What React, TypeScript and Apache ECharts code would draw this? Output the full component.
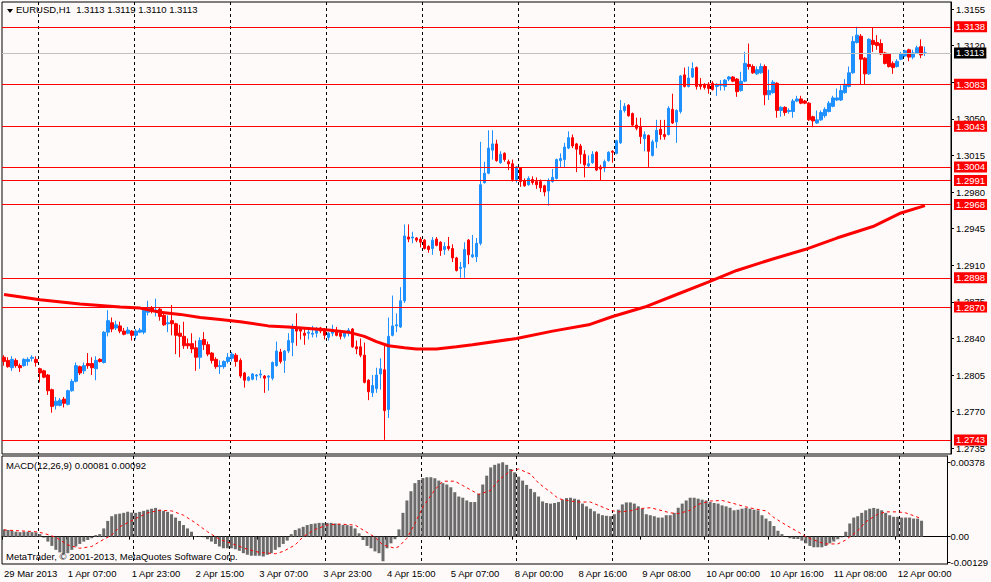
import React, { useEffect, useRef } from "react";
import * as echarts from "echarts";

// ---------- data (EURUSD H1) ----------
const X_LABELS = ["29 Mar 2013","1 Apr 07:00","1 Apr 23:00","2 Apr 15:00","3 Apr 07:00","3 Apr 23:00","4 Apr 15:00","5 Apr 07:00","8 Apr 00:00","8 Apr 16:00","9 Apr 08:00","10 Apr 00:00","10 Apr 16:00","11 Apr 08:00","12 Apr 00:00"];
const LABEL_STEP = 16;
const SLOT_COUNT = 237;

const OPEN = [
1.2822,1.2819,1.2812,1.2819,1.2814,1.2814,1.2818,1.2821,1.2820,1.2811,
1.2809,1.2805,1.2791,1.2776,1.2776,1.2782,1.2777,1.2790,1.2799,1.2813,
1.2809,1.2816,1.2816,1.2811,1.2820,1.2817,1.2846,1.2855,1.2850,1.2852,
1.2847,1.2845,1.2847,1.2843,1.2846,1.2846,1.2865,1.2869,1.2866,1.2868,
1.2862,1.2854,1.2857,1.2854,1.2845,1.2842,1.2835,1.2835,1.2831,1.2822,
1.2839,1.2834,1.2826,1.2820,1.2813,1.2813,1.2818,1.2821,1.2824,1.2819,
1.2807,1.2800,1.2801,1.2804,1.2805,1.2804,1.2803,1.2802,1.2814,1.2827,
1.2819,1.2828,1.2836,1.2850,1.2850,1.2845,1.2845,1.2844,1.2845,1.2850,
1.2848,1.2841,1.2845,1.2846,1.2845,1.2842,1.2845,1.2849,1.2832,1.2832,
1.2824,1.2800,1.2788,1.2792,1.2806,1.2810,1.2772,1.2843,1.2852,1.2851,
1.2876,1.2937,1.2936,1.2936,1.2935,1.2934,1.2928,1.2926,1.2935,1.2932,
1.2925,1.2928,1.2926,1.2917,1.2907,1.2908,1.2934,1.2918,1.2918,1.2931,
1.2989,1.2998,1.3020,1.3026,1.3008,1.3017,1.3009,1.3007,1.2991,1.3003,
1.2991,1.2987,1.2992,1.2990,1.2990,1.2986,1.2981,1.2990,1.2993,1.3010,
1.3011,1.3022,1.3032,1.3026,1.3024,1.3016,1.3005,1.3008,1.3018,1.3004,
1.3003,1.3010,1.3019,1.3017,1.3027,1.3058,1.3063,1.3055,1.3044,1.3042,
1.3031,1.3034,1.3015,1.3028,1.3040,1.3035,1.3035,1.3059,1.3047,1.3057,
1.3092,1.3081,1.3090,1.3099,1.3083,1.3083,1.3083,1.3084,1.3081,1.3082,
1.3081,1.3088,1.3090,1.3088,1.3077,1.3086,1.3102,1.3100,1.3093,1.3094,
1.3100,1.3073,1.3075,1.3084,1.3058,1.3061,1.3057,1.3057,1.3067,1.3069,
1.3067,1.3065,1.3052,1.3046,1.3049,1.3053,1.3057,1.3062,1.3068,1.3068,
1.3075,1.3081,1.3094,1.3123,1.3129,1.3108,1.3093,1.3125,1.3123,1.3122,
1.3113,1.3112,1.3103,1.3100,1.3107,1.3110,1.3116,1.3109,1.3113,1.3119,
1.3113];

const CLOSE = [
1.2818,1.2813,1.2820,1.2814,1.2812,1.2820,1.2820,1.2822,1.2817,1.2807,
1.2803,1.2790,1.2775,1.2780,1.2781,1.2778,1.2790,1.2799,1.2814,1.2807,
1.2814,1.2814,1.2812,1.2819,1.2818,1.2846,1.2857,1.2849,1.2853,1.2847,
1.2844,1.2848,1.2843,1.2847,1.2848,1.2867,1.2869,1.2866,1.2867,1.2861,
1.2853,1.2855,1.2854,1.2843,1.2842,1.2833,1.2833,1.2830,1.2822,1.2838,
1.2834,1.2825,1.2819,1.2813,1.2814,1.2818,1.2822,1.2825,1.2818,1.2804,
1.2800,1.2803,1.2806,1.2805,1.2806,1.2802,1.2804,1.2817,1.2828,1.2818,
1.2828,1.2838,1.2851,1.2847,1.2847,1.2843,1.2846,1.2845,1.2848,1.2847,
1.2843,1.2845,1.2848,1.2843,1.2842,1.2846,1.2848,1.2832,1.2830,1.2824,
1.2798,1.2789,1.2795,1.2805,1.2811,1.2771,1.2842,1.2852,1.2853,1.2876,
1.2938,1.2935,1.2937,1.2934,1.2932,1.2926,1.2925,1.2934,1.2929,1.2924,
1.2928,1.2926,1.2917,1.2905,1.2908,1.2925,1.2920,1.2920,1.2931,1.2987,
1.2998,1.3022,1.3026,1.3010,1.3016,1.3011,1.3007,1.2992,1.3004,1.2990,
1.2986,1.2993,1.2989,1.2987,1.2984,1.2980,1.2991,1.2994,1.3011,1.3012,
1.3023,1.3032,1.3024,1.3021,1.3016,1.3006,1.3007,1.3016,1.3001,1.3002,
1.3009,1.3018,1.3018,1.3029,1.3058,1.3062,1.3053,1.3044,1.3041,1.3033,
1.3035,1.3019,1.3028,1.3039,1.3035,1.3033,1.3060,1.3046,1.3058,1.3091,
1.3081,1.3089,1.3098,1.3081,1.3081,1.3080,1.3079,1.3078,1.3083,1.3083,
1.3087,1.3090,1.3086,1.3076,1.3086,1.3103,1.3100,1.3094,1.3097,1.3100,
1.3073,1.3077,1.3085,1.3058,1.3061,1.3056,1.3058,1.3067,1.3069,1.3065,
1.3065,1.3049,1.3048,1.3049,1.3056,1.3059,1.3065,1.3070,1.3070,1.3077,
1.3083,1.3094,1.3124,1.3130,1.3107,1.3093,1.3126,1.3121,1.3120,1.3112,
1.3103,1.3100,1.3099,1.3105,1.3112,1.3115,1.3109,1.3113,1.3118,1.3111,
1.3113];

const LOW = [
1.2814,1.2812,1.2809,1.2812,1.2808,1.2813,1.2814,1.2818,1.2813,1.2798,
1.2802,1.2786,1.2769,1.2772,1.2775,1.2774,1.2776,1.2789,1.2798,1.2805,
1.2806,1.2811,1.2805,1.2800,1.2817,1.2816,1.2842,1.2846,1.2848,1.2845,
1.2843,1.2844,1.2838,1.2839,1.2845,1.2844,1.2862,1.2864,1.2861,1.2857,
1.2852,1.2846,1.2843,1.2825,1.2822,1.2830,1.2830,1.2826,1.2809,1.2811,
1.2829,1.2823,1.2816,1.2811,1.2806,1.2811,1.2816,1.2818,1.2813,1.2802,
1.2793,1.2799,1.2800,1.2800,1.2802,1.2788,1.2790,1.2800,1.2813,1.2816,
1.2807,1.2826,1.2823,1.2833,1.2839,1.2834,1.2839,1.2841,1.2841,1.2845,
1.2839,1.2838,1.2842,1.2842,1.2839,1.2840,1.2842,1.2831,1.2825,1.2822,
1.2797,1.2781,1.2784,1.2788,1.2791,1.2743,1.2764,1.2842,1.2846,1.2850,
1.2874,1.2932,1.2931,1.2932,1.2927,1.2925,1.2922,1.2920,1.2928,1.2919,
1.2920,1.2924,1.2913,1.2904,1.2898,1.2898,1.2911,1.2917,1.2913,1.2929,
1.2988,1.2997,1.3011,1.3009,1.3007,1.3009,1.3001,1.2990,1.2989,1.2985,
1.2985,1.2986,1.2987,1.2983,1.2980,1.2976,1.2967,1.2989,1.2992,1.3003,
1.3003,1.3021,1.3022,1.2999,1.3007,1.2994,1.3004,1.3007,1.3000,1.2991,
1.2999,1.3009,1.3008,1.3016,1.3026,1.3056,1.3052,1.3043,1.3039,1.3026,
1.3019,1.3004,1.3014,1.3022,1.3030,1.3030,1.3034,1.3045,1.3027,1.3055,
1.3080,1.3080,1.3089,1.3078,1.3078,1.3078,1.3074,1.3077,1.3072,1.3077,
1.3077,1.3086,1.3085,1.3071,1.3076,1.3085,1.3097,1.3093,1.3092,1.3093,
1.3063,1.3068,1.3074,1.3051,1.3052,1.3053,1.3055,1.3051,1.3066,1.3064,
1.3064,1.3048,1.3042,1.3045,1.3048,1.3051,1.3056,1.3061,1.3067,1.3067,
1.3074,1.3080,1.3093,1.3122,1.3083,1.3083,1.3092,1.3114,1.3116,1.3111,
1.3102,1.3099,1.3093,1.3099,1.3106,1.3109,1.3105,1.3107,1.3112,1.3108,
1.3110];

const HIGH = [
1.2824,1.2822,1.2823,1.2821,1.2816,1.2821,1.2822,1.2824,1.2823,1.2812,
1.2810,1.2806,1.2792,1.2784,1.2783,1.2784,1.2791,1.2801,1.2817,1.2814,
1.2817,1.2826,1.2822,1.2823,1.2821,1.2847,1.2867,1.2860,1.2857,1.2856,
1.2850,1.2851,1.2848,1.2849,1.2850,1.2868,1.2876,1.2871,1.2878,1.2870,
1.2864,1.2862,1.2872,1.2855,1.2853,1.2856,1.2840,1.2845,1.2838,1.2841,
1.2846,1.2837,1.2827,1.2822,1.2819,1.2819,1.2826,1.2827,1.2826,1.2821,
1.2808,1.2804,1.2807,1.2806,1.2810,1.2805,1.2805,1.2818,1.2837,1.2830,
1.2829,1.2845,1.2854,1.2864,1.2851,1.2849,1.2851,1.2852,1.2851,1.2851,
1.2850,1.2846,1.2853,1.2851,1.2846,1.2847,1.2850,1.2850,1.2838,1.2840,
1.2836,1.2801,1.2805,1.2812,1.2821,1.2834,1.2860,1.2881,1.2864,1.2889,
1.2949,1.2949,1.2942,1.2937,1.2937,1.2935,1.2929,1.2937,1.2937,1.2933,
1.2932,1.2937,1.2930,1.2918,1.2913,1.2932,1.2935,1.2939,1.2936,1.3028,
1.3009,1.3039,1.3039,1.3030,1.3019,1.3018,1.3011,1.3011,1.3005,1.3004,
1.2993,1.2995,1.2995,1.2994,1.2992,1.2987,1.2993,1.3002,1.3012,1.3017,
1.3027,1.3038,1.3035,1.3027,1.3026,1.3020,1.3015,1.3019,1.3019,1.3006,
1.3011,1.3019,1.3020,1.3030,1.3068,1.3065,1.3064,1.3056,1.3051,1.3051,
1.3038,1.3035,1.3030,1.3049,1.3049,1.3049,1.3062,1.3074,1.3059,1.3092,
1.3099,1.3100,1.3104,1.3100,1.3089,1.3084,1.3085,1.3086,1.3084,1.3087,
1.3088,1.3091,1.3091,1.3089,1.3095,1.3114,1.3122,1.3102,1.3100,1.3103,
1.3102,1.3097,1.3087,1.3085,1.3062,1.3062,1.3060,1.3069,1.3072,1.3072,
1.3068,1.3066,1.3053,1.3058,1.3058,1.3061,1.3067,1.3072,1.3079,1.3082,
1.3088,1.3100,1.3129,1.3138,1.3131,1.3109,1.3127,1.3137,1.3130,1.3126,
1.3114,1.3113,1.3105,1.3107,1.3114,1.3116,1.3117,1.3116,1.3120,1.3126,
1.3119];

// moving average read at sample bars
const MA_BARS = [0,9,19,29,34,39,44,49,54,59,66,71,81,86,90,93,96,100,103,108,113,117,128,137,146,152,160,168,176,183,192,200,208,217,224,230];
const MA_VALUES = [1.2882,1.2877,1.2873,1.2870,1.2869,1.2865,1.2863,1.2860,1.2858,1.2856,1.2852,1.2851,1.2848,1.2846,1.2842,1.2837,1.2833,1.2831,1.2830,1.2830,1.2832,1.2834,1.2840,1.2847,1.2853,1.2861,1.2870,1.2882,1.2894,1.2905,1.2916,1.2925,1.2936,1.2947,1.2960,1.2967];

// horizontal levels
const LEVELS = [1.3138, 1.3083, 1.3043, 1.3004, 1.2991, 1.2968, 1.2898, 1.2870, 1.2743];
const BID = 1.3113;

// price scale ticks; 1.3085 carries a tick but its label is fully hidden in the reference
const PRICE_TICKS = [1.2735,1.2770,1.2805,1.2840,1.2875,1.2910,1.2945,1.2980,1.3015,1.3050,1.3085,1.3120,1.3155];
const PRICE_TICK_LABELS = [1.2735,1.2770,1.2805,1.2840,1.2875,1.2910,1.2945,1.2980,1.3015,1.3050,1.3120,1.3155];
const PRICE_MIN = 1.27295;
const PRICE_MAX = 1.31617;

const MACD_HIST = [
0.00037,0.00034,0.00030,0.00025,0.00023,0.00025,0.00025,0.00023,0.00022,0.00013,
-0.00005,-0.00025,-0.00047,-0.00067,-0.00080,-0.00087,-0.00084,-0.00067,-0.00050,-0.00037,
-0.00025,-0.00017,-0.00008,0.00008,0.00013,0.00042,0.00080,0.00104,0.00114,0.00117,
0.00121,0.00126,0.00122,0.00121,0.00126,0.00131,0.00137,0.00142,0.00146,0.00137,
0.00131,0.00126,0.00114,0.00097,0.00080,0.00059,0.00042,0.00025,0.00003,0.00002,
-0.00003,-0.00013,-0.00025,-0.00037,-0.00050,-0.00059,-0.00059,-0.00059,-0.00064,-0.00072,
-0.00084,-0.00092,-0.00097,-0.00097,-0.00097,-0.00101,-0.00092,-0.00084,-0.00067,-0.00054,
-0.00037,-0.00020,0.00013,0.00034,0.00042,0.00050,0.00059,0.00064,0.00067,0.00070,
0.00070,0.00070,0.00070,0.00067,0.00064,0.00059,0.00059,0.00054,0.00042,0.00017,
-0.00017,-0.00047,-0.00059,-0.00075,-0.00084,-0.00125,-0.00059,-0.00034,-0.00013,0.00037,
0.00121,0.00184,0.00231,0.00272,0.00288,0.00298,0.00302,0.00302,0.00297,0.00285,
0.00272,0.00265,0.00251,0.00226,0.00204,0.00198,0.00184,0.00176,0.00176,0.00218,
0.00265,0.00310,0.00352,0.00365,0.00372,0.00378,0.00365,0.00344,0.00327,0.00305,
0.00285,0.00263,0.00243,0.00226,0.00204,0.00179,0.00171,0.00168,0.00171,0.00176,
0.00188,0.00196,0.00198,0.00193,0.00188,0.00168,0.00154,0.00142,0.00129,0.00117,
0.00109,0.00106,0.00104,0.00114,0.00137,0.00164,0.00174,0.00174,0.00168,0.00154,
0.00142,0.00114,0.00109,0.00104,0.00097,0.00097,0.00109,0.00109,0.00121,0.00147,
0.00168,0.00184,0.00198,0.00198,0.00193,0.00188,0.00184,0.00176,0.00171,0.00168,
0.00159,0.00154,0.00147,0.00134,0.00137,0.00142,0.00146,0.00142,0.00137,0.00134,
0.00109,0.00092,0.00079,0.00054,0.00030,0.00013,0.00001,-0.00008,-0.00012,-0.00012,
-0.00020,-0.00034,-0.00047,-0.00054,-0.00054,-0.00054,-0.00047,-0.00034,-0.00025,-0.00013,
-0.00003,0.00025,0.00067,0.00097,0.00104,0.00121,0.00134,0.00142,0.00146,0.00142,
0.00134,0.00121,0.00109,0.00101,0.00101,0.00097,0.00097,0.00097,0.00092,0.00092,
0.00081];

const SIGNAL_BARS = [0,8,10,13,16,19,22,24,27,29,33,36,39,42,45,48,51,54,58,61,64,68,70,73,75,78,81,84,88,90,93,95,98,99,101,103,105,108,110,113,115,118,119,122,124,127,129,132,134,137,139,142,144,147,149,152,154,157,159,162,164,167,169,172,174,177,180,183,186,188,191,193,196,199,201,204,206,209,211,214,216,219,221,224,226,230];
const SIGNAL_VALUES = [0.00034,0.00025,0.00017,-0.00003,-0.00042,-0.00059,-0.00050,-0.00025,0.00008,0.00050,0.00092,0.00121,0.00134,0.00131,0.00109,0.00070,0.00025,-0.00013,-0.00042,-0.00064,-0.00080,-0.00087,-0.00075,-0.00042,0.00000,0.00037,0.00059,0.00064,0.00059,0.00034,-0.00003,-0.00042,-0.00059,-0.00050,-0.00008,0.00067,0.00151,0.00238,0.00282,0.00282,0.00260,0.00226,0.00215,0.00235,0.00288,0.00335,0.00344,0.00318,0.00272,0.00226,0.00193,0.00181,0.00176,0.00176,0.00159,0.00134,0.00126,0.00131,0.00142,0.00147,0.00137,0.00121,0.00117,0.00134,0.00164,0.00181,0.00184,0.00168,0.00151,0.00142,0.00131,0.00097,0.00059,0.00025,0.00000,-0.00025,-0.00037,-0.00037,-0.00017,0.00030,0.00075,0.00114,0.00126,0.00126,0.00121,0.00092];

const MACD_TICKS = [-0.00129, 0, 0.00378];
const MACD_MIN = -0.00139;
const MACD_MAX = 0.0041;

// ---------- styles ----------
const BG = "#fffafa";
const BULL = "#1e90ff";
const BEAR = "#ff0000";
const FONT = "'Liberation Sans', Arial, sans-serif";
const FS = 9.5;

export default function App() {
  const ref = useRef<HTMLDivElement>(null);

  useEffect(() => {
    if (!ref.current) return;
    const chart = echarts.init(ref.current, undefined, { renderer: "svg" });

    const categories = Array.from({ length: SLOT_COUNT }, (_, i) =>
      i % LABEL_STEP === 0 && X_LABELS[i / LABEL_STEP] ? X_LABELS[i / LABEL_STEP] : `#${i}`
    );
    const candles = OPEN.map((o, i) => [o, CLOSE[i], LOW[i], HIGH[i]]);
    const maData = MA_BARS.map((b, i) => [b, MA_VALUES[i]]);
    const sigData = SIGNAL_BARS.map((b, i) => [b, SIGNAL_VALUES[i]]);
    const last = OPEN.length - 1;
    const f4 = (v: number) => v.toFixed(4);

    const gridLine = (idx: number) => idx % 24 === 9;
    const splitLine = {
      show: true,
      interval: gridLine,
      lineStyle: { color: "#000", width: 1, type: [3, 3] as any },
    };
    const txt = { fontFamily: FONT, fontSize: FS, color: "#000", fontWeight: "normal" as const };

    const levelLabel = {
      show: true, position: "end", distance: 3,
      formatter: (p: any) => Number(p.value).toFixed(4),
      color: "#fff", backgroundColor: "#ff0000", padding: [1, 2, 0, 2], lineHeight: 10,
      fontFamily: FONT, fontSize: FS,
    };

    const option: any = {
      animation: false,
      backgroundColor: BG,
      textStyle: { fontFamily: FONT },
      title: [
        {
          text: `EURUSD,H1  ${f4(OPEN[last])} ${f4(HIGH[last])} ${f4(LOW[last])} ${f4(CLOSE[last])}`,
          left: 16, top: 4, padding: 0, textStyle: txt,
        },
        {
          text: `MACD(12,26,9) ${MACD_HIST[MACD_HIST.length - 1].toFixed(5)} ${SIGNAL_VALUES[SIGNAL_VALUES.length - 1].toFixed(5)}`,
          left: 6, top: 460, padding: 0, textStyle: txt,
        },
        {
          text: "MetaTrader, © 2001-2013, MetaQuotes Software Corp.",
          left: 6, top: 551, padding: 0, textStyle: txt,
        },
      ],
      graphic: [
        { type: "polygon", shape: { points: [[7, 9], [13, 9], [10, 13]] }, style: { fill: "#000" }, z: 10 },
      ],
      grid: [
        { left: 2, right: 40, top: 2, height: 452, show: true, borderColor: "#000", borderWidth: 1, backgroundColor: "transparent" },
        { left: 2, right: 40, top: 456, height: 108, show: true, borderColor: "#000", borderWidth: 1, backgroundColor: "transparent" },
      ],
      xAxis: [
        {
          type: "category", gridIndex: 0, data: categories, boundaryGap: true,
          axisLine: { show: false }, axisTick: { show: false }, axisLabel: { show: false },
          splitLine,
        },
        {
          type: "category", gridIndex: 1, data: categories, boundaryGap: true,
          axisLine: { show: true, lineStyle: { color: "#000", width: 1 } },
          axisTick: { show: true, interval: LABEL_STEP - 1, length: 3, lineStyle: { color: "#000" } },
          axisLabel: { show: true, interval: LABEL_STEP - 1, align: "left", margin: 4, ...txt },
          splitLine,
        },
      ],
      yAxis: [
        {
          type: "value", gridIndex: 0, position: "right", min: PRICE_MIN, max: PRICE_MAX,
          splitLine: { show: false },
          axisLine: { show: true, lineStyle: { color: "#000", width: 1 } },
          axisTick: { show: true, length: 3, customValues: PRICE_TICKS, lineStyle: { color: "#000" } },
          axisLabel: { show: true, customValues: PRICE_TICK_LABELS, formatter: (v: number) => v.toFixed(4), margin: 5, ...txt },
        },
        {
          type: "value", gridIndex: 1, position: "right", min: MACD_MIN, max: MACD_MAX,
          splitLine: { show: false },
          axisLine: { show: true, lineStyle: { color: "#000", width: 1 } },
          axisTick: { show: true, length: 3, customValues: MACD_TICKS, lineStyle: { color: "#000" } },
          axisLabel: {
            show: true, customValues: MACD_TICKS,
            formatter: (v: number) => (v === 0 ? "0.00" : v.toFixed(5)), margin: 3, ...txt,
          },
        },
      ],
      series: [
        {
          type: "candlestick", xAxisIndex: 0, yAxisIndex: 0, data: candles, barWidth: 3, clip: false, z: 3,
          itemStyle: { color: BULL, color0: BEAR, borderColor: BULL, borderColor0: BEAR, borderWidth: 1 },
        },
        {
          type: "line", xAxisIndex: 0, yAxisIndex: 0, data: maData, showSymbol: false, symbol: "none",
          lineStyle: { color: "#ff0000", width: 3 }, z: 4,
          markLine: {
            silent: true, symbol: "none", animation: false, precision: 4,
            lineStyle: { color: "#ff0000", width: 1, type: "solid" },
            label: levelLabel,
            emphasis: { disabled: true },
            data: [
              ...LEVELS.map((v) => ({ yAxis: v })),
              {
                yAxis: BID,
                lineStyle: { color: "#c0c0c0", width: 1, type: "solid" },
                label: { ...levelLabel, backgroundColor: "#000", color: "#fff" },
              },
            ],
          },
        },
        {
          type: "bar", xAxisIndex: 1, yAxisIndex: 1, data: MACD_HIST, barWidth: 3,
          itemStyle: { color: "#6b6b6b" },
        },
        {
          type: "line", xAxisIndex: 1, yAxisIndex: 1, data: sigData, showSymbol: false, symbol: "none",
          lineStyle: { color: "#ff0000", width: 1, type: [3, 3] }, z: 4,
        },
      ],
    };

    chart.setOption(option);
    return () => chart.dispose();
  }, []);

  return (
    <div
      ref={ref}
      style={{ position: "fixed", left: 0, top: 0, width: 991, height: 582, background: BG }}
    />
  );
}
